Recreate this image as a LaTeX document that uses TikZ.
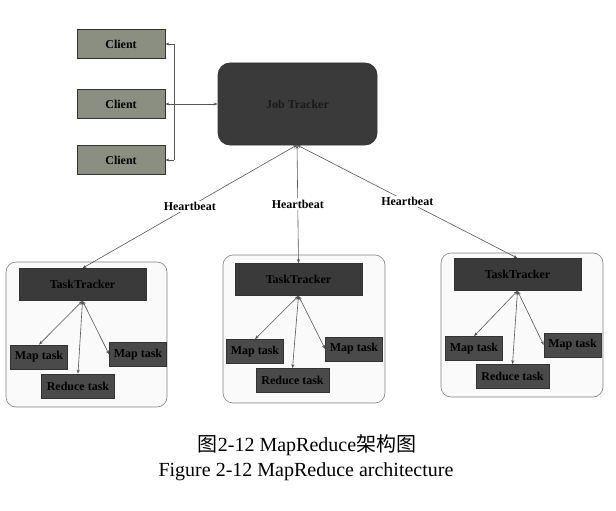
\documentclass[tikz,border=0pt]{standalone}
\usepackage{fontspec}
\setmainfont{Liberation Serif}
\newfontfamily\cjk{Noto Sans CJK SC}
\usetikzlibrary{arrows.meta}
\definecolor{clientfill}{HTML}{8A8F82}
\definecolor{darkfill}{HTML}{3A3A3A}
\definecolor{taskfill}{HTML}{4A4A4A}
\definecolor{linegray}{HTML}{555555}
\tikzset{
  box/.style={draw=black!80, line width=0.7pt, inner sep=0pt, font=\bfseries\fontsize{12}{13}\selectfont, text=black},
  client/.style={box, fill=clientfill, minimum width=88pt, minimum height=29pt},
  jobbox/.style={box, fill=darkfill, rounded corners=12pt, minimum width=159pt, minimum height=82pt, text=black!90},
  ttbox/.style={box, fill=darkfill, minimum width=127pt, minimum height=32pt},
  taskbox/.style={box, fill=taskfill, minimum width=57pt, minimum height=24pt},
  redbox/.style={box, fill=taskfill, minimum width=73pt, minimum height=24pt},
  container/.style={draw=black!50, line width=0.6pt, fill=black!2, rounded corners=10pt, inner sep=0pt},
  conn/.style={draw=linegray, line width=0.6pt, -{Stealth[length=4pt,width=3pt]}},
  biconn/.style={draw=linegray, line width=0.6pt, {Stealth[length=4pt,width=3pt]}-{Stealth[length=4pt,width=3pt]}},
  hb/.style={font=\bfseries\fontsize{12}{13}\selectfont, fill=white, inner sep=1.5pt},
  captext/.style={font=\fontsize{20}{22}\selectfont}
}
\begin{document}
\begin{tikzpicture}[x=1pt,y=-1pt]
\useasboundingbox (0,0) rectangle (616,511);
% containers
\node[container, minimum width=161pt, minimum height=145pt] (k1) at (86.5,334.5) {};
\node[container, minimum width=162pt, minimum height=148pt] (k2) at (304,329) {};
\node[container, minimum width=162pt, minimum height=144pt] (k3) at (522,325) {};
% clients
\node[client] (c1) at (121,44) {Client};
\node[client] (c2) at (121,104) {Client};
\node[client] (c3) at (121,160) {Client};
% job tracker
\node[jobbox] (jt) at (297.5,104) {Job Tracker};
% task trackers
\node[ttbox] (t1) at (82.5,284.5) {TaskTracker};
\node[ttbox] (t2) at (298.5,279.5) {TaskTracker};
\node[ttbox] (t3) at (517.5,274.5) {TaskTracker};
% tasks
\node[taskbox] (a1) at (39,357) {Map task};
\node[taskbox] (b1) at (138,354.5) {Map task};
\node[redbox] (r1) at (78,386) {Reduce task};
\node[taskbox] (a2) at (255,351.5) {Map task};
\node[taskbox] (b2) at (354,349) {Map task};
\node[redbox] (r2) at (292.5,380.5) {Reduce task};
\node[taskbox] (a3) at (474,348.5) {Map task};
\node[taskbox] (b3) at (572.5,345) {Map task};
\node[redbox] (r3) at (512.5,376.5) {Reduce task};
% client bus
\coordinate (bus1) at (174,44);
\coordinate (bus3) at (174,160);
\draw[linegray, line width=0.6pt] (bus1) -- (bus3);
\draw[conn] (bus1) -- (c1.east);
\draw[conn] (bus3) -- (c3.east);
\draw[biconn] (c2.east) -- (jt.west);
% heartbeat
\coordinate (jb) at (297,145);
\draw[biconn] (jb) -- (t1.north) node[hb, pos=0.5] (h1) {Heartbeat};
\draw[biconn] (jb) -- (t2.north) node[hb, pos=0.5] (h2) {Heartbeat};
\draw[biconn] (jb) -- (t3.north) node[hb, pos=0.5] (h3) {Heartbeat};
% task arrows
\draw[biconn] (t1.south) -- (a1.north);
\draw[biconn] (t1.south) -- (r1.north);
\draw[biconn] (t1.south) -- (b1.west);
\draw[biconn] (t2.south) -- (a2.north);
\draw[biconn] (t2.south) -- (r2.north);
\draw[biconn] (t2.south) -- (b2.west);
\draw[biconn] (t3.south) -- (a3.north);
\draw[biconn] (t3.south) -- (r3.north);
\draw[biconn] (t3.south) -- (b3.west);
% captions
\node[captext] (cap1) at (307,445) {{\cjk 图}2-12 MapReduce{\cjk 架构图}};
\node[captext] (cap2) at (306,472) {Figure 2-12 MapReduce architecture};
\end{tikzpicture}
\end{document}
